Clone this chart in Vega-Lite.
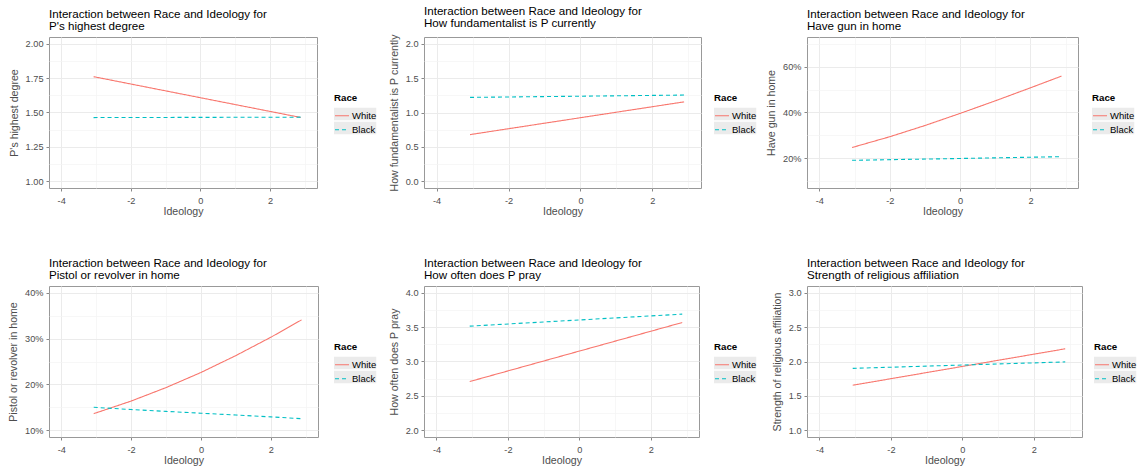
{
  "$schema": "https://vega.github.io/schema/vega-lite/v6.json",
  "background": "white",
  "padding": {"left": 8, "top": 5, "right": 0, "bottom": 0},
  "datasets": {
    "p1": [
      {"ideology": -3.07, "value": 1.761, "Race": "White"},
      {"ideology": 2.88, "value": 1.464, "Race": "White"},
      {"ideology": -3.07, "value": 1.463, "Race": "Black"},
      {"ideology": 2.88, "value": 1.466, "Race": "Black"}
    ],
    "p2": [
      {"ideology": -3.07, "value": 0.678, "Race": "White"},
      {"ideology": 2.88, "value": 1.155, "Race": "White"},
      {"ideology": -3.07, "value": 1.22, "Race": "Black"},
      {"ideology": 2.88, "value": 1.254, "Race": "Black"}
    ],
    "p3": [
      {"ideology": -3.07, "value": 0.247, "Race": "White"},
      {"ideology": -2, "value": 0.294, "Race": "White"},
      {"ideology": -1, "value": 0.343, "Race": "White"},
      {"ideology": 0, "value": 0.396, "Race": "White"},
      {"ideology": 1, "value": 0.451, "Race": "White"},
      {"ideology": 2, "value": 0.508, "Race": "White"},
      {"ideology": 2.88, "value": 0.559, "Race": "White"},
      {"ideology": -3.07, "value": 0.191, "Race": "Black"},
      {"ideology": 0, "value": 0.199, "Race": "Black"},
      {"ideology": 2.88, "value": 0.207, "Race": "Black"}
    ],
    "p4": [
      {"ideology": -3.07, "value": 0.136, "Race": "White"},
      {"ideology": -2, "value": 0.1635, "Race": "White"},
      {"ideology": -1, "value": 0.193, "Race": "White"},
      {"ideology": 0, "value": 0.226, "Race": "White"},
      {"ideology": 1, "value": 0.263, "Race": "White"},
      {"ideology": 2, "value": 0.303, "Race": "White"},
      {"ideology": 2.88, "value": 0.341, "Race": "White"},
      {"ideology": -3.07, "value": 0.150, "Race": "Black"},
      {"ideology": -2, "value": 0.145, "Race": "Black"},
      {"ideology": -1, "value": 0.141, "Race": "Black"},
      {"ideology": 0, "value": 0.137, "Race": "Black"},
      {"ideology": 1, "value": 0.133, "Race": "Black"},
      {"ideology": 2, "value": 0.129, "Race": "Black"},
      {"ideology": 2.88, "value": 0.125, "Race": "Black"}
    ],
    "p5": [
      {"ideology": -3.07, "value": 2.708, "Race": "White"},
      {"ideology": 2.88, "value": 3.568, "Race": "White"},
      {"ideology": -3.07, "value": 3.515, "Race": "Black"},
      {"ideology": 2.88, "value": 3.69, "Race": "Black"}
    ],
    "p6": [
      {"ideology": -3.07, "value": 1.654, "Race": "White"},
      {"ideology": 2.88, "value": 2.185, "Race": "White"},
      {"ideology": -3.07, "value": 1.9, "Race": "Black"},
      {"ideology": 2.88, "value": 1.994, "Race": "Black"}
    ]
  },
  "config": {
    "font": "Liberation Sans",
    "view": {"stroke": "#999999", "strokeWidth": 1},
    "axis": {
      "domain": false,
      "tickSize": 3,
      "tickColor": "#888888",
      "labelFontSize": 9.2,
      "labelColor": "#4D4D4D",
      "titleFontSize": 10.6,
      "titleFontWeight": "normal",
      "titleColor": "#4D4D4D",
      "gridColor": "#EBEBEB"
    },
    "axisX": {"labelPadding": 5, "titlePadding": 1},
    "axisY": {"labelPadding": 3, "titlePadding": 6},
    "legend": {
      "titleFontSize": 9.7,
      "titleFontWeight": "bold",
      "titleColor": "#000000",
      "labelFontSize": 9.5,
      "labelColor": "#000000",
      "symbolType": "stroke",
      "symbolSize": 196,
      "symbolStrokeWidth": 1.1,
      "labelOffset": 2,
      "rowPadding": 1,
      "titlePadding": 5,
      "padding": 0
    },
    "title": {
      "anchor": "start",
      "frame": "group",
      "fontSize": 11.6,
      "fontWeight": "normal",
      "color": "#000000",
      "lineHeight": 12,
      "offset": 0
    }
  },
  "resolve": {"scale": {"color": "independent", "strokeDash": "independent"}, "legend": {"color": "independent", "strokeDash": "independent"}},
  "columns": 3,
  "align": "none",
  "bounds": "flush",
  "spacing": {"row": 98, "column": 106},
  "concat": [
    {
      "title": {"text": ["Interaction between Race and Ideology for", "P's highest degree"]},
      "width": 268, "height": 151,
      "data": {"name": "p1"},
      "mark": {"type": "line", "strokeWidth": 1.1},
      "encoding": {
        "x": {"field": "ideology", "type": "quantitative", "scale": {"domain": [-4.35, 3.35], "nice": false, "zero": false},
          "axis": {"title": "Ideology", "values": [-4, -3, -2, -1, 0, 1, 2, 3], "labelExpr": "datum.value % 2 === 0 ? '' + datum.value : ''",
            "tickOpacity": {"condition": {"test": "datum.value % 2 === 0", "value": 1}, "value": 0},
            "gridColor": {"condition": {"test": "datum.value % 2 === 0", "value": "#EBEBEB"}, "value": "#F3F3F3"},
            "gridWidth": {"condition": {"test": "datum.value % 2 === 0", "value": 1}, "value": 0.7}}},
        "y": {"field": "value", "type": "quantitative", "scale": {"domain": [0.95, 2.05], "nice": false, "zero": false},
          "axis": {"title": "P's highest degree", "format": ".2f", "values": [1, 1.125, 1.25, 1.375, 1.5, 1.625, 1.75, 1.875, 2],
            "labelExpr": "abs(datum.value*4 - round(datum.value*4)) < 1e-6 ? datum.label : ''",
            "tickOpacity": {"condition": {"test": "abs(datum.value*4 - round(datum.value*4)) < 1e-6", "value": 1}, "value": 0},
            "gridColor": {"condition": {"test": "abs(datum.value*4 - round(datum.value*4)) < 1e-6", "value": "#EBEBEB"}, "value": "#F3F3F3"},
            "gridWidth": {"condition": {"test": "abs(datum.value*4 - round(datum.value*4)) < 1e-6", "value": 1}, "value": 0.7}}},
        "color": {"field": "Race", "type": "nominal", "scale": {"domain": ["White", "Black"], "range": ["#F8766D", "#00BFC4"]},
          "legend": {"title": "Race", "orient": "none", "legendX": 285, "legendY": 56,
            "encode": {"entries": {"update": {"fill": {"value": "#EBEBEB"}, "width": {"value": 14}, "height": {"value": 12}}}}}},
        "strokeDash": {"field": "Race", "type": "nominal", "scale": {"domain": ["White", "Black"], "range": [[1, 0], [4, 3]]},
          "legend": {"title": "Race", "orient": "none", "legendX": 285, "legendY": 56}}
      }
    },
    {
      "title": {"text": ["Interaction between Race and Ideology for", "How fundamentalist is P currently"]},
      "width": 277, "height": 151,
      "data": {"name": "p2"},
      "mark": {"type": "line", "strokeWidth": 1.1},
      "encoding": {
        "x": {"field": "ideology", "type": "quantitative", "scale": {"domain": [-4.35, 3.35], "nice": false, "zero": false},
          "axis": {"title": "Ideology", "values": [-4, -3, -2, -1, 0, 1, 2, 3], "labelExpr": "datum.value % 2 === 0 ? '' + datum.value : ''",
            "tickOpacity": {"condition": {"test": "datum.value % 2 === 0", "value": 1}, "value": 0},
            "gridColor": {"condition": {"test": "datum.value % 2 === 0", "value": "#EBEBEB"}, "value": "#F3F3F3"},
            "gridWidth": {"condition": {"test": "datum.value % 2 === 0", "value": 1}, "value": 0.7}}},
        "y": {"field": "value", "type": "quantitative", "scale": {"domain": [-0.1, 2.1], "nice": false, "zero": false},
          "axis": {"title": "How fundamentalist is P currently", "format": ".1f", "values": [0, 0.25, 0.5, 0.75, 1, 1.25, 1.5, 1.75, 2],
            "labelExpr": "abs(datum.value*2 - round(datum.value*2)) < 1e-6 ? datum.label : ''",
            "tickOpacity": {"condition": {"test": "abs(datum.value*2 - round(datum.value*2)) < 1e-6", "value": 1}, "value": 0},
            "gridColor": {"condition": {"test": "abs(datum.value*2 - round(datum.value*2)) < 1e-6", "value": "#EBEBEB"}, "value": "#F3F3F3"},
            "gridWidth": {"condition": {"test": "abs(datum.value*2 - round(datum.value*2)) < 1e-6", "value": 1}, "value": 0.7}}},
        "color": {"field": "Race", "type": "nominal", "scale": {"domain": ["White", "Black"], "range": ["#F8766D", "#00BFC4"]},
          "legend": {"title": "Race", "orient": "none", "legendX": 290, "legendY": 56,
            "encode": {"entries": {"update": {"fill": {"value": "#EBEBEB"}, "width": {"value": 14}, "height": {"value": 12}}}}}},
        "strokeDash": {"field": "Race", "type": "nominal", "scale": {"domain": ["White", "Black"], "range": [[1, 0], [4, 3]]},
          "legend": {"title": "Race", "orient": "none", "legendX": 290, "legendY": 56}}
      }
    },
    {
      "title": {"text": ["Interaction between Race and Ideology for", "Have gun in home"]},
      "width": 271, "height": 151,
      "data": {"name": "p3"},
      "mark": {"type": "line", "strokeWidth": 1.1},
      "encoding": {
        "x": {"field": "ideology", "type": "quantitative", "scale": {"domain": [-4.35, 3.35], "nice": false, "zero": false},
          "axis": {"title": "Ideology", "values": [-4, -3, -2, -1, 0, 1, 2, 3], "labelExpr": "datum.value % 2 === 0 ? '' + datum.value : ''",
            "tickOpacity": {"condition": {"test": "datum.value % 2 === 0", "value": 1}, "value": 0},
            "gridColor": {"condition": {"test": "datum.value % 2 === 0", "value": "#EBEBEB"}, "value": "#F3F3F3"},
            "gridWidth": {"condition": {"test": "datum.value % 2 === 0", "value": 1}, "value": 0.7}}},
        "y": {"field": "value", "type": "quantitative", "scale": {"domain": [0.07, 0.73], "nice": false, "zero": false},
          "axis": {"title": "Have gun in home", "format": ".0%", "values": [0.1, 0.2, 0.3, 0.4, 0.5, 0.6, 0.7],
            "labelExpr": "abs(datum.value*5 - round(datum.value*5)) < 1e-6 ? datum.label : ''",
            "tickOpacity": {"condition": {"test": "abs(datum.value*5 - round(datum.value*5)) < 1e-6", "value": 1}, "value": 0},
            "gridColor": {"condition": {"test": "abs(datum.value*5 - round(datum.value*5)) < 1e-6", "value": "#EBEBEB"}, "value": "#F3F3F3"},
            "gridWidth": {"condition": {"test": "abs(datum.value*5 - round(datum.value*5)) < 1e-6", "value": 1}, "value": 0.7}}},
        "color": {"field": "Race", "type": "nominal", "scale": {"domain": ["White", "Black"], "range": ["#F8766D", "#00BFC4"]},
          "legend": {"title": "Race", "orient": "none", "legendX": 285, "legendY": 56,
            "encode": {"entries": {"update": {"fill": {"value": "#EBEBEB"}, "width": {"value": 14}, "height": {"value": 12}}}}}},
        "strokeDash": {"field": "Race", "type": "nominal", "scale": {"domain": ["White", "Black"], "range": [[1, 0], [4, 3]]},
          "legend": {"title": "Race", "orient": "none", "legendX": 285, "legendY": 56}}
      }
    },
    {
      "title": {"text": ["Interaction between Race and Ideology for", "Pistol or revolver in home"]},
      "width": 269, "height": 151,
      "data": {"name": "p4"},
      "mark": {"type": "line", "strokeWidth": 1.1},
      "encoding": {
        "x": {"field": "ideology", "type": "quantitative", "scale": {"domain": [-4.35, 3.35], "nice": false, "zero": false},
          "axis": {"title": "Ideology", "values": [-4, -3, -2, -1, 0, 1, 2, 3], "labelExpr": "datum.value % 2 === 0 ? '' + datum.value : ''",
            "tickOpacity": {"condition": {"test": "datum.value % 2 === 0", "value": 1}, "value": 0},
            "gridColor": {"condition": {"test": "datum.value % 2 === 0", "value": "#EBEBEB"}, "value": "#F3F3F3"},
            "gridWidth": {"condition": {"test": "datum.value % 2 === 0", "value": 1}, "value": 0.7}}},
        "y": {"field": "value", "type": "quantitative", "scale": {"domain": [0.085, 0.415], "nice": false, "zero": false},
          "axis": {"title": "Pistol or revolver in home", "format": ".0%", "values": [0.1, 0.15, 0.2, 0.25, 0.3, 0.35, 0.4],
            "labelExpr": "abs(datum.value*10 - round(datum.value*10)) < 1e-6 ? datum.label : ''",
            "tickOpacity": {"condition": {"test": "abs(datum.value*10 - round(datum.value*10)) < 1e-6", "value": 1}, "value": 0},
            "gridColor": {"condition": {"test": "abs(datum.value*10 - round(datum.value*10)) < 1e-6", "value": "#EBEBEB"}, "value": "#F3F3F3"},
            "gridWidth": {"condition": {"test": "abs(datum.value*10 - round(datum.value*10)) < 1e-6", "value": 1}, "value": 0.7}}},
        "color": {"field": "Race", "type": "nominal", "scale": {"domain": ["White", "Black"], "range": ["#F8766D", "#00BFC4"]},
          "legend": {"title": "Race", "orient": "none", "legendX": 285, "legendY": 56,
            "encode": {"entries": {"update": {"fill": {"value": "#EBEBEB"}, "width": {"value": 14}, "height": {"value": 12}}}}}},
        "strokeDash": {"field": "Race", "type": "nominal", "scale": {"domain": ["White", "Black"], "range": [[1, 0], [4, 3]]},
          "legend": {"title": "Race", "orient": "none", "legendX": 285, "legendY": 56}}
      }
    },
    {
      "title": {"text": ["Interaction between Race and Ideology for", "How often does P pray"]},
      "width": 275, "height": 151,
      "data": {"name": "p5"},
      "mark": {"type": "line", "strokeWidth": 1.1},
      "encoding": {
        "x": {"field": "ideology", "type": "quantitative", "scale": {"domain": [-4.35, 3.35], "nice": false, "zero": false},
          "axis": {"title": "Ideology", "values": [-4, -3, -2, -1, 0, 1, 2, 3], "labelExpr": "datum.value % 2 === 0 ? '' + datum.value : ''",
            "tickOpacity": {"condition": {"test": "datum.value % 2 === 0", "value": 1}, "value": 0},
            "gridColor": {"condition": {"test": "datum.value % 2 === 0", "value": "#EBEBEB"}, "value": "#F3F3F3"},
            "gridWidth": {"condition": {"test": "datum.value % 2 === 0", "value": 1}, "value": 0.7}}},
        "y": {"field": "value", "type": "quantitative", "scale": {"domain": [1.9, 4.1], "nice": false, "zero": false},
          "axis": {"title": "How often does P pray", "format": ".1f", "values": [2, 2.25, 2.5, 2.75, 3, 3.25, 3.5, 3.75, 4],
            "labelExpr": "abs(datum.value*2 - round(datum.value*2)) < 1e-6 ? datum.label : ''",
            "tickOpacity": {"condition": {"test": "abs(datum.value*2 - round(datum.value*2)) < 1e-6", "value": 1}, "value": 0},
            "gridColor": {"condition": {"test": "abs(datum.value*2 - round(datum.value*2)) < 1e-6", "value": "#EBEBEB"}, "value": "#F3F3F3"},
            "gridWidth": {"condition": {"test": "abs(datum.value*2 - round(datum.value*2)) < 1e-6", "value": 1}, "value": 0.7}}},
        "color": {"field": "Race", "type": "nominal", "scale": {"domain": ["White", "Black"], "range": ["#F8766D", "#00BFC4"]},
          "legend": {"title": "Race", "orient": "none", "legendX": 290, "legendY": 56,
            "encode": {"entries": {"update": {"fill": {"value": "#EBEBEB"}, "width": {"value": 14}, "height": {"value": 12}}}}}},
        "strokeDash": {"field": "Race", "type": "nominal", "scale": {"domain": ["White", "Black"], "range": [[1, 0], [4, 3]]},
          "legend": {"title": "Race", "orient": "none", "legendX": 290, "legendY": 56}}
      }
    },
    {
      "title": {"text": ["Interaction between Race and Ideology for", "Strength of religious affiliation"]},
      "width": 275, "height": 151,
      "data": {"name": "p6"},
      "mark": {"type": "line", "strokeWidth": 1.1},
      "encoding": {
        "x": {"field": "ideology", "type": "quantitative", "scale": {"domain": [-4.35, 3.35], "nice": false, "zero": false},
          "axis": {"title": "Ideology", "values": [-4, -3, -2, -1, 0, 1, 2, 3], "labelExpr": "datum.value % 2 === 0 ? '' + datum.value : ''",
            "tickOpacity": {"condition": {"test": "datum.value % 2 === 0", "value": 1}, "value": 0},
            "gridColor": {"condition": {"test": "datum.value % 2 === 0", "value": "#EBEBEB"}, "value": "#F3F3F3"},
            "gridWidth": {"condition": {"test": "datum.value % 2 === 0", "value": 1}, "value": 0.7}}},
        "y": {"field": "value", "type": "quantitative", "scale": {"domain": [0.9, 3.1], "nice": false, "zero": false},
          "axis": {"title": "Strength of religious affiliation", "format": ".1f", "values": [1, 1.25, 1.5, 1.75, 2, 2.25, 2.5, 2.75, 3],
            "labelExpr": "abs(datum.value*2 - round(datum.value*2)) < 1e-6 ? datum.label : ''",
            "tickOpacity": {"condition": {"test": "abs(datum.value*2 - round(datum.value*2)) < 1e-6", "value": 1}, "value": 0},
            "gridColor": {"condition": {"test": "abs(datum.value*2 - round(datum.value*2)) < 1e-6", "value": "#EBEBEB"}, "value": "#F3F3F3"},
            "gridWidth": {"condition": {"test": "abs(datum.value*2 - round(datum.value*2)) < 1e-6", "value": 1}, "value": 0.7}}},
        "color": {"field": "Race", "type": "nominal", "scale": {"domain": ["White", "Black"], "range": ["#F8766D", "#00BFC4"]},
          "legend": {"title": "Race", "orient": "none", "legendX": 287, "legendY": 56,
            "encode": {"entries": {"update": {"fill": {"value": "#EBEBEB"}, "width": {"value": 14}, "height": {"value": 12}}}}}},
        "strokeDash": {"field": "Race", "type": "nominal", "scale": {"domain": ["White", "Black"], "range": [[1, 0], [4, 3]]},
          "legend": {"title": "Race", "orient": "none", "legendX": 287, "legendY": 56}}
      }
    }
  ]
}
